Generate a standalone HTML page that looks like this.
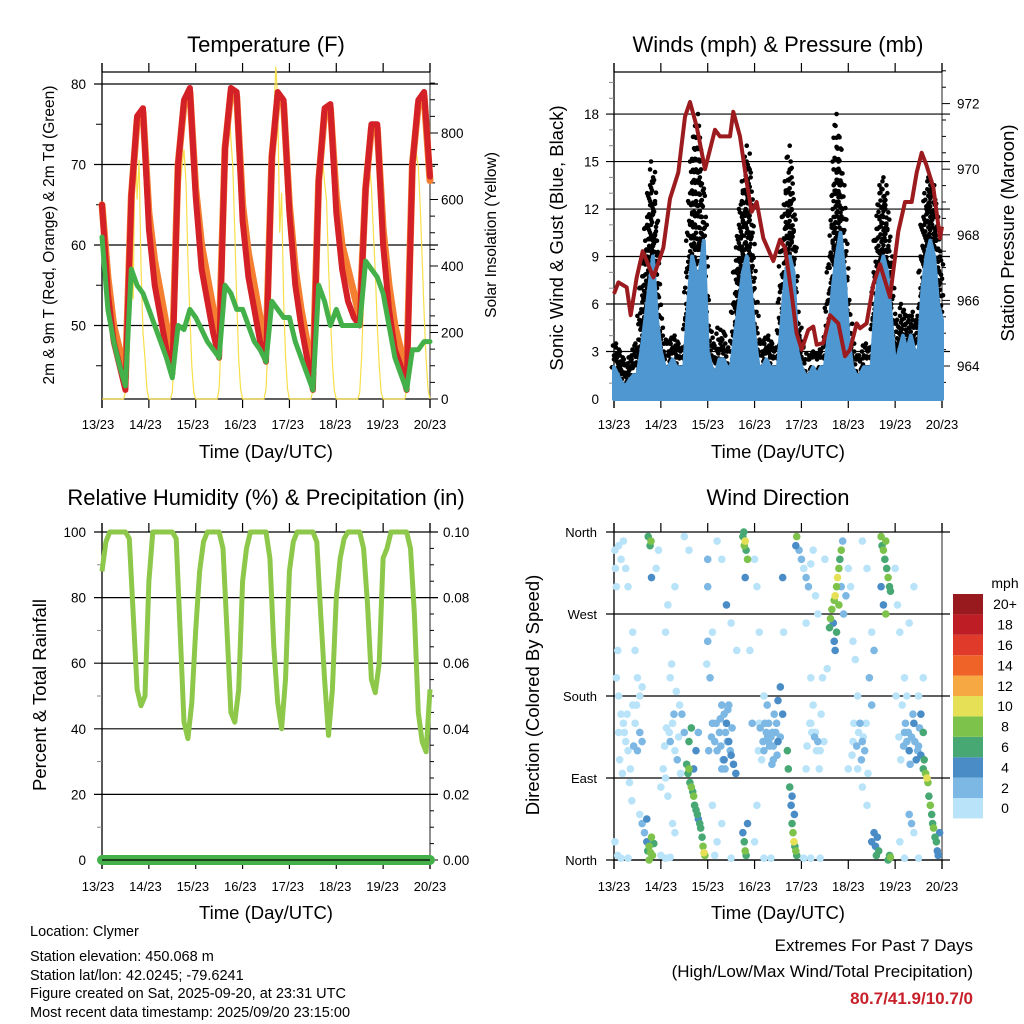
<!DOCTYPE html>
<html><head><meta charset="utf-8"><style>
html,body{margin:0;padding:0;background:#fff;}
svg{display:block;font-family:"Liberation Sans",Arial,sans-serif;}
</style></head><body>
<svg id="root" width="1024" height="1024" viewBox="0 0 1024 1024" xmlns="http://www.w3.org/2000/svg">
<g id="static" font-family="Liberation Sans, sans-serif" fill="#000">
<text x="266" y="52" font-size="22" text-anchor="middle">Temperature (F)</text>
<text x="778" y="52" font-size="22" text-anchor="middle">Winds (mph) &amp; Pressure (mb)</text>
<text x="266" y="505" font-size="22" text-anchor="middle">Relative Humidity (%) &amp; Precipitation (in)</text>
<text x="778" y="505" font-size="22" text-anchor="middle">Wind Direction</text>
<text transform="translate(54,235) rotate(-90)" font-size="15.5" text-anchor="middle">2m &amp; 9m T (Red, Orange) &amp; 2m Td (Green)</text>
<text transform="translate(496,235) rotate(-90)" font-size="15.5" text-anchor="middle">Solar Insolation (Yellow)</text>
<text transform="translate(563,238) rotate(-90)" font-size="18.5" text-anchor="middle">Sonic Wind &amp; Gust (Blue, Black)</text>
<text transform="translate(1014,233) rotate(-90)" font-size="18.5" text-anchor="middle">Station Pressure (Maroon)</text>
<text transform="translate(46,695) rotate(-90)" font-size="18.5" text-anchor="middle">Percent &amp; Total Rainfall</text>
<text transform="translate(539,695) rotate(-90)" font-size="18.5" text-anchor="middle">Direction (Colored By Speed)</text>
<text x="266" y="458" font-size="18.5" text-anchor="middle">Time (Day/UTC)</text>
<text x="778" y="458" font-size="18.5" text-anchor="middle">Time (Day/UTC)</text>
<text x="266" y="919" font-size="18.5" text-anchor="middle">Time (Day/UTC)</text>
<text x="778" y="919" font-size="18.5" text-anchor="middle">Time (Day/UTC)</text>
<g font-size="14.5">
<text x="30" y="936">Location: Clymer</text>
<text x="30" y="961">Station elevation: 450.068 m</text>
<text x="30" y="980">Station lat/lon: 42.0245; -79.6241</text>
<text x="30" y="998">Figure created on Sat, 2025-09-20, at 23:31 UTC</text>
<text x="30" y="1017">Most recent data timestamp: 2025/09/20 23:15:00</text>
</g>
<text x="973" y="951" font-size="17" text-anchor="end">Extremes For Past 7 Days</text>
<text x="973" y="977" font-size="17" text-anchor="end">(High/Low/Max Wind/Total Precipitation)</text>
<text x="973" y="1004" font-size="17" font-weight="bold" fill="#c8202a" text-anchor="end">80.7/41.9/10.7/0</text>
<text x="1005" y="588" font-size="14" text-anchor="middle">mph</text>
</g>
<g id="dyn"></g>
</svg>
<script>
// ---------- data ----------
const dayLabels = ["13/23","14/23","15/23","16/23","17/23","18/23","19/23","20/23"];
// 3-hourly samples (t = i/8 days from 13/23)
const temp2m = [65,54,48,45,42,66,76,77, 62,55,51,47,44,70,78,79.5, 66,57,53,49,46,72,79.5,79, 63,56,52,48,45.5,71,79,78, 64,55,50,46,42,68,77,77.5, 64,57,53,51,50,67,75,75, 60,52,47,45,42,70,78,79, 68.5];
const temp9m = [65,56,50,47,43.5,66,75.5,76.5, 64,58,54,50,46,70,77.5,79, 67,60,56,52,48,72,79,78.5, 65,59,55,51,47,71,78.5,77.5, 65,57,52,48,44,68,76.5,77, 66,60,57,54,51,67,74.5,74.5, 62,55,50,47,44,70,77.5,78.5, 68];
const dewpt = [61,52,48,45,42.5,57,55,54, 52,50,48,46,43.5,50,49.5,52, 51,49.5,48,47,46,55,54,52, 52,50,48,47,45.5,53,52,51, 51,48,46,44,42,55,53,50, 52,50,50,50,50,58,57,56, 54,50,46,44,42,47,47,48, 48];
// hourly solar, each row = one day starting 23 UTC
const solar = [
 [0,0,0,0,0,0,0,0,0,0,0,0,20,150,350,560,300,820,600,720,400,200,120,30],
 [0,0,0,0,0,0,0,0,0,0,0,0,20,120,300,500,640,700,750,650,420,250,100,20],
 [0,0,0,0,0,0,0,0,0,0,0,0,30,180,400,650,880,920,780,700,500,300,120,30],
 [0,0,0,0,0,0,0,0,0,0,0,0,30,160,380,600,850,1000,900,500,620,300,130,30],
 [0,0,0,0,0,0,0,0,0,0,0,0,25,150,350,550,680,720,650,600,400,250,110,25],
 [0,0,0,0,0,0,0,0,0,0,0,0,20,130,300,500,650,700,640,500,380,220,100,20],
 [0,0,0,0,0,0,0,0,0,0,0,0,25,150,350,560,700,740,700,580,420,260,120,30]
];
// 2-hourly wind (t = i/12 days)
const windSpeed = [2,1.5,1,0.8,1.2,1.5,1.5,3,5,7,9,5, 3,2,2,2.5,2,2,2,6,9,8,8,10, 3,2,1.5,2.5,2.5,2,2,4,6,8,9,7, 4,2,2,2.5,2,2,2,5,8,9,8,3, 2,1.5,1.5,2,1.5,2,2,4,7,9,10.5,8, 4,2,1.5,1.5,2,2,2,6,8,9,8,5, 2,3,4,3,4,3,3,7,9,10,9,6, 5];
const windGust = [3.5,3,2.5,2,2.5,3,3.5,7,10,13,15,10, 4.5,3.5,3.5,4,3.5,3,3.5,10,15,18,15,13, 5,3.5,3,4.5,4,3,3,8,11,13,16,14, 7,3.5,3.5,4,3.5,3,3.5,10,13,16,12,5, 4,2.5,2.5,3,2.5,3,3.5,8,12,18,15,12, 6,3.5,2.5,2.5,3.5,3,3.5,10,13,14,12,8, 4,5,6,4.5,5.5,4.5,5,11,13,14,13,10, 8];
const presTime = [0,0.093,0.27,0.356,0.484,0.612,0.84,1.053,1.195,1.373,1.515,1.622,1.764,1.942,2.155,2.262,2.475,2.547,2.689,2.831,2.938,3.045,3.187,3.4,3.543,3.65,3.79,3.898,4.005,4.147,4.254,4.325,4.467,4.61,4.787,4.93,5.036,5.18,5.25,5.39,5.535,5.677,5.89,5.96,6.068,6.21,6.353,6.46,6.566,6.673,6.815,6.957,7.0];
const presVal = [966.2,966.55,966.4,965.55,966.7,967.5,966.7,967.6,969.1,969.9,971.6,972.05,971.3,970.0,971.2,971.0,971.0,971.75,971.0,969.6,968.7,969.0,967.9,967.2,967.85,967.6,966.2,965.0,964.5,965.1,965.2,964.65,964.7,965.55,965.3,964.3,964.5,965.3,965.15,965.3,966.5,967.1,966.1,966.9,968.1,969.0,969.0,969.9,970.5,970.1,969.45,967.9,968.25];
// 2-hourly RH
const rh = [88,97,100,100,100,100,100,98,75,52,47,50, 85,100,100,100,100,100,100,98,70,42,37,48, 70,88,97,100,100,100,100,95,70,45,42,52, 85,95,100,100,100,100,100,92,65,48,40,55, 88,97,100,100,100,100,100,97,75,55,38,52, 80,92,98,100,100,100,100,95,78,55,51,60, 92,95,100,100,100,100,100,95,75,45,36,33, 52];
const precip = [0,0,0,0,0,0,0,0];
// wind direction scatter
const dirTime = [0.02,0.03,0.05,0.1,0.15,0.2,0.25,0.3,0.05,0.1,0.15,0.2,0.25,0.3,0.1,0.02,0.08,0.15,0.3,0.4,0.45,0.5,0.55,0.4,0.45,0.5,0.55,0.6,0.55,0.6,0.65,0.7,0.72,0.75,0.78,0.8,0.82,0.85,0.7,0.75,0.73,0.77,0.79,0.8,0.9,0.95,
1.0,1.05,1.1,1.15,1.2,1.25,1.3,1.35,1.1,1.15,1.2,1.3,1.4,1.45,1.5,1.0,1.1,1.2,1.25,1.3,1.5,1.6,
1.55,1.58,1.6,1.62,1.65,1.68,1.7,1.72,1.75,1.78,1.8,1.83,1.85,1.88,1.9,1.92,1.94,1.6,1.65,1.7,1.75,1.8,
2.0,2.0,2.0,2.05,2.1,2.15,2.2,2.25,2.3,2.35,2.4,2.45,2.5,2.55,2.6,2.45,2.35,2.3,2.1,2.2,2.3,2.5,2.4,2.2,2.3,2.1,2.5,2.15,
2.75,2.78,2.8,2.82,2.85,2.77,2.8,2.75,2.78,2.8,2.82,2.85,2.9,2.95,
3.0,3.05,3.1,3.2,3.25,3.3,3.35,3.4,3.45,3.5,3.55,3.3,3.4,3.2,3.1,3.15,3.5,3.55,3.6,3.6,3.0,3.2,3.35,3.05,
3.7,3.72,3.75,3.78,3.8,3.82,3.84,3.86,3.88,3.9,3.8,3.85,3.9,3.88,3.95,
4.0,4.05,4.1,4.15,4.2,4.25,4.3,4.35,4.1,4.2,4.3,4.35,4.4,4.2,4.25,4.45,4.5,4.05,4.2,4.4,4.1,
4.6,4.62,4.65,4.68,4.7,4.72,4.75,4.77,4.8,4.82,4.85,4.7,4.72,4.75,4.8,4.85,4.9,4.95,4.88,
5.0,5.05,5.1,5.15,5.2,5.25,5.3,5.35,5.1,5.0,5.2,5.3,5.4,5.45,5.5,5.5,5.55,5.4,5.3,5.5,5.55,5.58,5.6,5.62,5.65,
5.7,5.72,5.75,5.78,5.8,5.82,5.85,5.88,5.9,5.75,5.8,5.85,5.88,5.9,5.7,6.0,
6.05,6.1,6.15,6.2,6.25,6.3,6.35,6.4,6.45,6.5,6.55,6.6,6.62,6.65,6.68,6.7,6.72,6.75,6.78,6.8,6.82,6.85,6.88,6.9,6.92,6.95,6.6,6.55,6.3,6.35,6.4,6.2,6.25,6.3,6.4,6.5,6.6,6.1,6.2,6.5,
0.12,0.18,0.22,0.28,0.35,0.42,0.48,0.08,0.33,0.38,1.08,1.18,1.28,1.38,1.42,1.33,1.23,1.12,2.02,2.08,2.18,2.28,2.38,2.42,2.52,2.33,2.27,2.37,2.43,2.48,3.08,3.12,3.18,3.22,3.28,3.32,3.38,3.42,3.48,3.27,3.37,3.47,4.12,4.18,4.22,4.28,4.32,4.38,4.42,4.48,5.08,5.12,5.18,5.22,5.28,5.32,5.38,5.42,6.08,6.12,6.18,6.22,6.28,6.32,6.38,6.42,6.48,6.52,0.6,1.98,2.62,3.62,4.55,6.02];
const dirDeg = [340,320,300,345,330,350,320,300,200,180,160,150,130,120,140,20,5,2,2,170,150,200,180,250,230,120,140,130,50,40,30,20,10,15,8,25,5,18,45,0,355,345,350,310,320,340,
80,100,90,70,130,150,120,110,250,280,200,300,170,160,140,5,2,3,40,30,355,340,
105,95,100,85,80,75,70,60,55,50,45,40,35,25,15,8,5,130,145,100,120,140,
330,300,240,200,150,130,120,140,100,110,150,130,115,105,95,170,160,170,60,20,40,260,280,350,330,250,2,5,
355,345,350,340,330,360,310,30,20,10,5,40,230,150,
330,300,250,180,140,130,135,125,140,130,135,150,110,120,150,110,175,190,160,310,20,2,2,60,
120,100,80,60,40,30,20,15,10,5,70,50,355,345,340,
330,320,310,300,325,340,290,270,260,200,140,130,120,150,170,200,330,2,2,2,100,
255,265,275,260,285,290,300,310,320,330,340,240,230,250,280,300,270,290,350,
320,300,240,220,180,150,130,120,130,100,100,80,60,200,170,250,230,320,350,20,30,15,5,25,10,
355,345,340,330,350,320,310,300,295,280,270,0,5,3,300,320,
280,250,170,140,130,120,135,150,110,125,115,100,110,95,90,85,70,60,50,40,35,25,20,10,5,30,140,160,50,40,30,200,180,260,300,180,200,20,2,2,
110,95,140,160,100,125,170,230,85,65,125,140,160,135,95,185,215,145,120,135,150,125,140,130,145,110,155,100,165,120,120,145,130,150,135,125,140,160,115,170,105,150,125,150,140,135,120,100,160,130,115,150,125,140,110,135,150,95,135,110,125,150,140,105,160,130,120,145,190,215,230,250,210,180];
const dirSpeed = [1,1,1,1,1,1,1,1,1,1,1,1,1,1,1,1,1,1,1,1,1,1,1,1,1,3,3,3,1,3,3,5,7,8,9,8,8,7,5,9,7,7,8,5,1,1,
1,1,1,1,3,1,1,3,1,1,1,1,1,3,3,1,1,1,1,1,1,1,
7,7,8,7,8,7,9,7,6,7,5,7,6,7,8,10,9,7,6,5,5,3,
3,3,3,3,3,3,3,3,3,5,5,5,5,5,5,3,3,3,1,1,1,1,5,1,1,1,1,1,
7,8,10,7,8,6,5,5,6,8,7,5,1,3,
1,1,1,1,3,3,3,3,3,5,3,3,3,3,1,1,5,5,5,5,1,1,1,1,
7,6,7,5,6,8,10,7,8,6,5,5,8,5,3,
3,1,3,3,1,1,1,1,1,1,1,3,1,1,1,1,1,1,1,1,1,
7,8,9,5,8,10,8,10,8,7,8,5,5,6,8,3,3,3,3,
1,1,1,1,1,3,3,3,1,1,1,1,1,3,3,1,3,1,1,4,4,5,6,4,6,
8,7,8,7,8,6,8,7,6,5,8,6,7,8,5,1,
1,1,1,3,3,5,3,5,5,3,5,6,7,8,10,9,7,8,6,7,8,6,7,5,4,4,7,5,3,3,1,1,1,1,1,1,1,1,1,1,
1,1,1,1,1,3,1,1,1,1,1,1,3,1,1,1,1,1,3,3,3,3,3,3,3,3,3,3,3,3,1,3,3,3,3,3,3,3,3,3,3,3,1,1,1,3,1,1,1,1,1,1,3,1,3,1,1,1,1,1,3,3,3,3,3,3,3,3,1,1,1,1,1,1];
const legendLabels = ["0","2","4","6","8","10","12","14","16","18","20+"];
const legendColors = ["#b8e3f8","#7cb8e3","#4a8dc6","#47a874","#7dc24b","#e6e057","#f6a843","#ef6328","#e03a2a","#bf1d25","#981a1e"];

// ---------- helpers ----------
const NS="http://www.w3.org/2000/svg";
const dyn=document.getElementById('dyn');
function mk(tag,attrs,parent){const e=document.createElementNS(NS,tag);for(const k in attrs)e.setAttribute(k,attrs[k]);(parent||dyn).appendChild(e);return e;}
function txt(x,y,s,size,anchor,parent){const e=mk('text',{x:x,y:y,'font-size':size,'text-anchor':anchor||'middle',fill:'#000'},parent);e.textContent=s;return e;}
function lin(pts){return 'M'+pts.map(p=>p[0].toFixed(1)+','+p[1].toFixed(1)).join('L');}
function speedColor(s){let i=Math.min(10,Math.floor(s/2));return legendColors[i];}

const X0L=102,X1L=430,X0R=614,X1R=942,DAYS=7;
const xL=t=>X0L+t/DAYS*(X1L-X0L);
const xR=t=>X0R+t/DAYS*(X1R-X0R);
const yTemp=v=>84+(80-v)*8.05;
const ySolar=v=>399-v*0.3325;
const yWind=v=>399-v*15.83;
const yPres=v=>366-(v-964)*32.8;
const yRH=v=>860-v*3.28;
const yPrecip=v=>860-v*3280;
const yDir=v=>860-v*328/360;

function frame(x0,x1,top,bot,name){
  const g=mk('g',{});
  
  
  mk('line',{x1:x0,y1:top-9,x2:x0,y2:bot+9,stroke:'#000','stroke-width':1.3},g);
  mk('line',{x1:x1,y1:top-9,x2:x1,y2:bot+9,stroke:'#555','stroke-width':1.3},g);
  for(let d=0;d<=DAYS;d++){const x=x0+d/DAYS*(x1-x0);
    mk('line',{x1:x,y1:top,x2:x,y2:top-9,stroke:'#000','stroke-width':1.2},g);
    mk('line',{x1:x,y1:bot,x2:x,y2:bot+9,stroke:'#000','stroke-width':1.2},g);}
  mk('line',{x1:x0,y1:bot,x2:x1,y2:bot,stroke:'#000','stroke-width':1.3},g);
  return g;
}
function xLabels(x0,x1,y,name){
  const g=mk('g',{});
  
  
  dayLabels.forEach((s,i)=>{const t=txt(x0+i/DAYS*(x1-x0),y,s,13,'middle',g);
    
    });
}
function hgrid(x0,x1,y,color){mk('line',{x1:x0-8,y1:y,x2:x1+8,y2:y,stroke:color||'#000','stroke-width':1.2});}

// ---------- Panel 1: Temperature ----------
frame(X0L,X1L,72,399,'temperature-axes');
mk('line',{x1:X0L,y1:72,x2:X1L,y2:72,stroke:'#000','stroke-width':1.2});
[80,70,60,50].forEach(v=>{hgrid(X0L,X1L,yTemp(v),'#000');const t=txt(86,yTemp(v)+5,String(v),13.5,'end');
  
  });
[75,65,55,45].forEach(v=>mk('line',{x1:X0L-6,y1:yTemp(v),x2:X0L,y2:yTemp(v),stroke:'#000'}));
for(let s=0;s<=950;s+=50){mk('line',{x1:X1L,y1:ySolar(s),x2:X1L+(s%200?5:8),y2:ySolar(s),stroke:'#000'});}
[0,200,400,600,800].forEach(s=>{const t=txt(441,ySolar(s)+5,String(s),13.5,'start');
  
  });
xLabels(X0L-4,X1L,429,'temperature-x-ticks');
{const pts=[];solar.forEach((row,d)=>row.forEach((v,h)=>pts.push([xL(d+h/24),ySolar(v)])));pts.push([xL(7),ySolar(0)]);
 const p=mk('path',{d:lin(pts),fill:'none',stroke:'#f7df4a','stroke-width':1.2});
 
 }
function tline(arr,color,w,name){const pts=arr.map((v,i)=>[xL(i/8),yTemp(v)]);const p=mk('path',{d:lin(pts),fill:'none',stroke:color,'stroke-width':w,'stroke-linejoin':'round','stroke-linecap':'round'});
 
 }
tline(temp9m,'#f47f31',7,'temp-9m-line');
tline(temp2m,'#d42027',6,'temp-2m-line');
tline(dewpt,'#44b049',5,'dewpoint-line');

// ---------- Panel 2: Winds ----------
frame(X0R,X1R,72,399,'winds-axes');
mk('line',{x1:X0R,y1:72,x2:X1R,y2:72,stroke:'#000','stroke-width':1.2});
[3,6,9,12,15,18].forEach(v=>hgrid(X0R,X1R,yWind(v),'#000'));
[0,3,6,9,12,15,18].forEach(v=>{const t=txt(599,yWind(v)+5,String(v),13.5,'end');
  
  });
for(let v=1;v<=20;v++)if(v%3)mk('line',{x1:X0R-5,y1:yWind(v),x2:X0R,y2:yWind(v),stroke:'#888'});
for(let p=963.5;p<=973;p+=0.5){mk('line',{x1:X1R,y1:yPres(p),x2:X1R+(p%2===0?8:4),y2:yPres(p),stroke:'#000'});}
[964,966,968,970,972].forEach(p=>{const t=txt(957,yPres(p)+5,String(p),13.5,'start');
  
  });
xLabels(X0R,X1R,429,'winds-x-ticks');
{ const g=mk('g',{fill:'#000'});
 
 
 for(let i=0;i<windGust.length-1;i++){for(let j=0;j<4;j++){const f=j/4,t=(i+f)/12;
   const hi=windGust[i]+(windGust[i+1]-windGust[i])*f,lo=windSpeed[i]+(windSpeed[i+1]-windSpeed[i])*f;
   const ylo=yWind(lo),yhi=yWind(hi);const n=Math.max(1,Math.round((ylo-yhi)/11));
   for(let k=0;k<=n;k++){mk('circle',{cx:xR(t)+((k+j)%3-1)*2,cy:ylo-(ylo-yhi)*k/n,r:2.3},g);}}}
}
{ const pts=windSpeed.map((v,i)=>[xR(i/12),yWind(v)]);
  const area=[[xR(0),yWind(0)]].concat(pts).concat([[xR(7),yWind(0)]]);
  const p=mk('path',{d:lin(area)+'Z',fill:'#4f97d1',stroke:'#4f97d1','stroke-width':4,'stroke-linejoin':'round'});
  
  }
{ const pts=presTime.map((t,i)=>[xR(t),yPres(presVal[i])]);
  const p=mk('path',{d:lin(pts),fill:'none',stroke:'#9b1b1e','stroke-width':4,'stroke-linejoin':'round'});
  
  }

// ---------- Panel 3: RH ----------
frame(X0L,X1L,532,860,'humidity-axes');
[100,80,60,40,20].forEach(v=>hgrid(X0L,X1L,yRH(v),'#000'));
[0,20,40,60,80,100].forEach(v=>{const t=txt(86,yRH(v)+5,String(v),13.5,'end');
  
  });
for(let v=10;v<100;v+=20)mk('line',{x1:X0L-5,y1:yRH(v),x2:X0L,y2:yRH(v),stroke:'#888'});
for(let p=0;p<=0.1001;p+=0.005)mk('line',{x1:X1L,y1:yPrecip(p),x2:X1L+(Math.round(p*1000)%20===0?8:4),y2:yPrecip(p),stroke:'#000'});
["0.00","0.02","0.04","0.06","0.08","0.10"].forEach((s,i)=>{const t=txt(443,yPrecip(i*0.02)+5,s,13.5,'start');
  
  });
xLabels(X0L-4,X1L,891,'humidity-x-ticks');
{ const pts=precip.map((v,i)=>[xL(i),yPrecip(v)]);
  const p=mk('path',{d:lin(pts),fill:'none',stroke:'#44b049','stroke-width':10,'stroke-linecap':'round'});
  
  }
mk('line',{x1:X0L,y1:860,x2:X1L,y2:860,stroke:'#000','stroke-width':1.2});
{ const pts=rh.map((v,i)=>[xL(i/12),yRH(v)]);
  const p=mk('path',{d:lin(pts),fill:'none',stroke:'#8dc84b','stroke-width':5,'stroke-linejoin':'round'});
  
  }

// ---------- Panel 4: Wind direction ----------
frame(X0R,X1R,532,860,'direction-axes');
[0,90,180,270,360].forEach(v=>hgrid(X0R,X1R,yDir(v),'#000'));
["North","East","South","West","North"].forEach((s,i)=>{const t=txt(597,yDir(i*90)+5,s,13,'end');
  
  });
xLabels(X0R,X1R,891,'direction-x-ticks');
{ const g=mk('g',{});
  
  
  const order=dirTime.map((t,i)=>i).sort((a,b)=>dirSpeed[a]-dirSpeed[b]);
  order.forEach(i=>{const c=mk('circle',{cx:xR(dirTime[i]),cy:yDir(dirDeg[i]),r:3.8,fill:speedColor(dirSpeed[i])},g);
    
    });}
{ const g=mk('g',{});
  
  
  const top=594,h=20.4;
  legendLabels.forEach((s,i)=>{const y=top+(10-i)*h;
    const r=mk('rect',{x:953,y:y,width:30,height:h,fill:legendColors[i]},g);
    
    
    const t=txt(1005,y+h/2+5,s,14,'middle',g);
    
    });}
</script>
</body></html>
